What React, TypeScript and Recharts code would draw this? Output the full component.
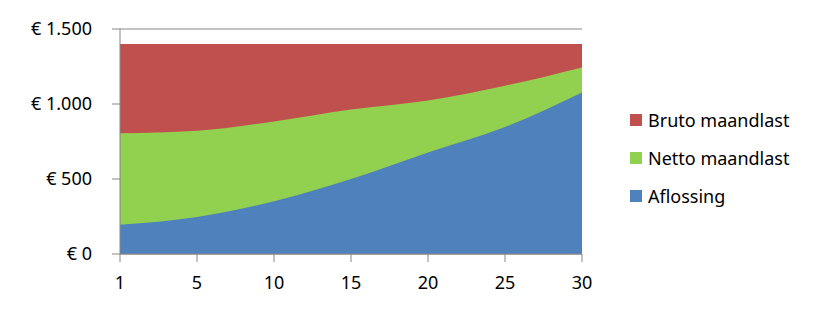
import React from 'react';
import { AreaChart, Area, XAxis, YAxis, CartesianGrid, Legend } from 'recharts';

const years = ['1', '5', '10', '15', '20', '25', '30'];
const bruto = [1400, 1400, 1400, 1400, 1400, 1400, 1400];
const netto = [805, 822, 884, 963, 1024, 1122, 1244];
const aflossing = [195, 247, 351, 500, 677, 847, 1077];
const yTicks = [0, 500, 1000, 1500];
const legendOrder = ['Bruto maandlast', 'Netto maandlast', 'Aflossing'];

const data = years.map((year, i) => ({
  year,
  bruto: bruto[i],
  netto: netto[i],
  aflossing: aflossing[i],
}));

const FONT = '"Noto Sans", sans-serif';

const euro = (v: number) => '€ ' + String(v).replace(/\B(?=(\d{3})+(?!\d))/g, '.');

const renderLegend = (props: any) => {
  const items = [...(props.payload || [])].sort(
    (a: any, b: any) => legendOrder.indexOf(a.value) - legendOrder.indexOf(b.value)
  );
  return (
    <div style={{ fontFamily: FONT, fontSize: 18, color: '#000', whiteSpace: 'nowrap', width: 190 }}>
      {items.map((entry: any) => (
        <div key={entry.value} style={{ display: 'flex', alignItems: 'center', height: 38 }}>
          <span
            style={{
              display: 'inline-block',
              flex: '0 0 12px',
              width: 12,
              height: 12,
              background: entry.color,
              marginRight: 6,
            }}
          />
          <span>{entry.value}</span>
        </div>
      ))}
    </div>
  );
};

const App: React.FC = () => {
  return (
    <div style={{ width: 806, height: 296 }}>
      <AreaChart width={806} height={296} data={data} margin={{ top: 21, right: 232, bottom: 20, left: 0 }}>
        <CartesianGrid horizontal vertical={false} stroke="#868686" />
        <XAxis
          dataKey="year"
          axisLine={{ stroke: '#868686' }}
          tickLine={{ stroke: '#868686' }}
          tickSize={8}
          tickMargin={14}
          height={30}
          tick={{ fill: '#000', fontSize: 18, fontFamily: FONT }}
          interval={0}
        />
        <YAxis
          width={112}
          domain={[0, 1500]}
          ticks={yTicks}
          tickFormatter={euro}
          axisLine={{ stroke: '#868686' }}
          tickLine={{ stroke: '#868686' }}
          tickSize={8}
          tickMargin={20}
          tick={{ fill: '#000', fontSize: 18, fontFamily: FONT }}
        />
        <Legend
          layout="vertical"
          align="right"
          verticalAlign="top"
          itemSorter={null as any}
          content={renderLegend}
          wrapperStyle={{ left: 622, top: 93, width: 0, height: 0, overflow: 'visible' }}
        />
        <Area
          type="linear"
          dataKey="bruto"
          name="Bruto maandlast"
          stroke="none"
          fill="#C0504D"
          fillOpacity={1}
          isAnimationActive={false}
        />
        <Area
          type="monotone"
          dataKey="netto"
          name="Netto maandlast"
          stroke="none"
          fill="#92D050"
          fillOpacity={1}
          isAnimationActive={false}
        />
        <Area
          type="monotone"
          dataKey="aflossing"
          name="Aflossing"
          stroke="none"
          fill="#4F81BD"
          fillOpacity={1}
          isAnimationActive={false}
        />
      </AreaChart>
    </div>
  );
};

export default App;
